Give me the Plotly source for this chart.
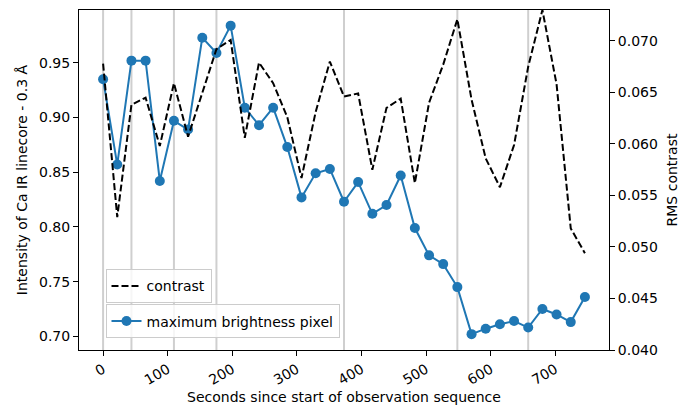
import plotly.graph_objects as go

# Observation times (s since start of sequence)
times = [0.0, 21.9, 43.9, 65.8, 87.8, 109.7, 131.6, 153.6, 175.5, 197.5,
         219.4, 241.4, 263.3, 285.2, 307.2, 329.1, 351.1, 373.0, 394.9, 416.9,
         438.8, 460.8, 482.7, 504.7, 526.6, 548.5, 570.5, 592.4, 614.4, 636.3,
         658.2, 680.2, 702.1, 724.1, 746.0]

# Ca IR linecore (-0.3 A) intensity of the brightest pixel
max_brightness = [0.935, 0.857, 0.952, 0.952, 0.842, 0.897, 0.889, 0.973, 0.959, 0.984,
                  0.909, 0.893, 0.909, 0.873, 0.827, 0.849, 0.853, 0.823, 0.841, 0.812,
                  0.820, 0.847, 0.799, 0.774, 0.766, 0.745, 0.702, 0.707, 0.711, 0.714,
                  0.708, 0.725, 0.720, 0.713, 0.736]

# RMS contrast of the field of view
contrast = [0.0678, 0.0529, 0.0638, 0.0645, 0.0598, 0.0659, 0.0607, 0.0649, 0.0692, 0.0701,
            0.0606, 0.0679, 0.0659, 0.0626, 0.0567, 0.0631, 0.0680, 0.0646, 0.0649, 0.0575,
            0.0635, 0.0644, 0.0562, 0.0640, 0.0677, 0.0721, 0.0643, 0.0586, 0.0558, 0.0599,
            0.0675, 0.0730, 0.0658, 0.0518, 0.0494]

# Times of the frames marked with vertical reference lines
marked_times = [0.0, 43.9, 109.7, 175.5, 373.0, 548.5, 658.2]

FONT = "DejaVu Sans"
FS = 14

fig = go.Figure()

fig.add_trace(go.Scatter(
    x=times, y=max_brightness, mode="lines+markers",
    name="maximum brightness pixel",
    line=dict(color="#1f77b4", width=2),
    marker=dict(color="#1f77b4", size=10),
    yaxis="y", legend="legend2",
))

fig.add_trace(go.Scatter(
    x=times, y=contrast, mode="lines",
    name="contrast",
    line=dict(color="black", width=2, dash="7px,3px"),
    yaxis="y2", legend="legend",
))

for t in marked_times:
    fig.add_shape(type="line", xref="x", yref="paper", x0=t, x1=t, y0=0, y1=1,
                  line=dict(color="#cfcfcf", width=2), layer="below")

axis_common = dict(
    showgrid=False, zeroline=False, showline=True, linecolor="black", linewidth=1,
    ticks="outside", ticklen=5, tickwidth=1, tickcolor="black", automargin=False,
    tickfont=dict(family=FONT, size=FS, color="black"),
)

fig.update_layout(
    width=691, height=405,
    margin=dict(l=79, r=82, t=10, b=55),
    paper_bgcolor="white", plot_bgcolor="white",
    font=dict(family=FONT, size=FS, color="black"),
    xaxis=dict(
        **axis_common, mirror=True, range=[-37.3, 783.3],
        tickvals=[0, 100, 200, 300, 400, 500, 600, 700], tickangle=-30,
        title=dict(text="Seconds since start of observation sequence",
                   font=dict(family=FONT, size=FS), standoff=6),
    ),
    yaxis=dict(
        **axis_common, range=[0.6875, 0.9983],
        tickvals=[0.70, 0.75, 0.80, 0.85, 0.90, 0.95], tickformat=".2f",
        title=dict(text="Intensity of Ca IR linecore - 0.3 Å",
                   font=dict(family=FONT, size=FS), standoff=8),
    ),
    yaxis2=dict(
        **axis_common, overlaying="y", side="right", range=[0.040, 0.0730],
        tickvals=[0.040, 0.045, 0.050, 0.055, 0.060, 0.065, 0.070], tickformat=".3f",
        title=dict(text="RMS contrast", font=dict(family=FONT, size=FS), standoff=10),
    ),
    legend=dict(
        x=0.05, y=0.237, xanchor="left", yanchor="top",
        bgcolor="rgba(255,255,255,0.8)", bordercolor="#cccccc", borderwidth=1,
        font=dict(family=FONT, size=FS, color="black"),
    ),
    legend2=dict(
        x=0.05, y=0.134, xanchor="left", yanchor="top",
        bgcolor="rgba(255,255,255,0.8)", bordercolor="#cccccc", borderwidth=1,
        font=dict(family=FONT, size=FS, color="black"),
    ),
    showlegend=True,
)

fig.write_html("out.html")
